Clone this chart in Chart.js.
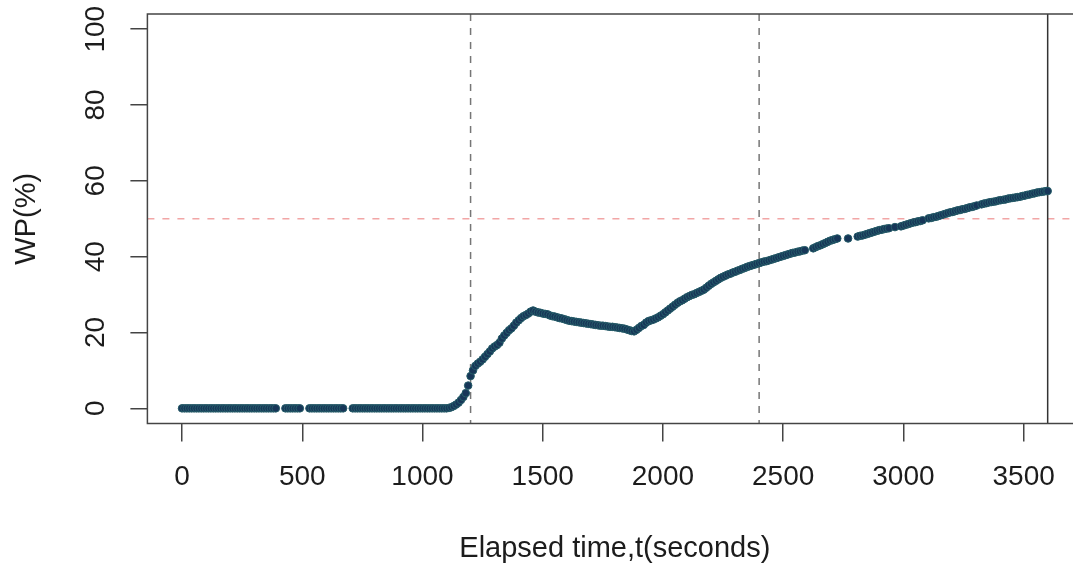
<!DOCTYPE html>
<html>
<head>
<meta charset="utf-8">
<title>WP(%) vs elapsed time</title>
<script src="https://cdn.jsdelivr.net/npm/chart.js@4/dist/chart.umd.min.js"></script>
<style>
  html, body { margin: 0; padding: 0; background: #fff; overflow: hidden; }
  #wrap { width: 1090px; height: 566px; }
</style>
</head>
<body>
<div id="wrap"><canvas id="wpChart" width="1090" height="566"></canvas></div>
<script>
// elapsed time (s) and WP (%), one reading every ~10 s
// idle stretch: WP stays at 0 (a few dropped readings)
const idleSec = [
  0, 10, 20, 30, 40, 50, 60, 70, 80, 90, 100, 110, 120, 130, 140, 150, 160, 170, 180, 190,
  200, 210, 220, 230, 240, 250, 260, 270, 280, 290, 300, 310, 320, 330, 340, 350, 360, 370, 380, 390,
  430, 440, 450, 460, 470, 480, 490, 530, 540, 550, 560, 570, 580, 590, 600, 610, 620, 630, 640, 650,
  660, 670, 710, 720, 730, 740, 750, 760, 770, 780, 790, 800, 810, 820, 830, 840, 850, 860, 870, 880,
  890, 900, 910, 920, 930, 940, 950, 960, 970, 980, 990, 1000, 1010, 1020, 1030, 1040, 1050, 1060, 1070, 1080,
  1090, 1100
];
const idleWp = [
  0, 0, 0, 0, 0, 0, 0, 0, 0, 0, 0, 0, 0, 0, 0, 0, 0, 0, 0, 0,
  0, 0, 0, 0, 0, 0, 0, 0, 0, 0, 0, 0, 0, 0, 0, 0, 0, 0, 0, 0,
  0, 0, 0, 0, 0, 0, 0, 0, 0, 0, 0, 0, 0, 0, 0, 0, 0, 0, 0, 0,
  0, 0, 0, 0, 0, 0, 0, 0, 0, 0, 0, 0, 0, 0, 0, 0, 0, 0, 0, 0,
  0, 0, 0, 0, 0, 0, 0, 0, 0, 0, 0, 0, 0, 0, 0, 0, 0, 0, 0, 0,
  0, 0
];

// rise up to the first peak
const riseSec = [
  1110, 1120, 1130, 1140, 1150, 1160, 1170, 1180, 1190, 1200,
  1210, 1220, 1230, 1240, 1250, 1260, 1270, 1280, 1290, 1300,
  1310, 1320, 1330, 1340, 1350, 1360, 1370, 1380, 1390, 1400,
  1410, 1420, 1430, 1440, 1450, 1460
];
const riseWp = [
  0.1, 0.3, 0.6, 1.0, 1.5, 2.2, 3.0, 4.0, 6.0, 8.5,
  10.0, 11.2, 11.8, 12.3, 12.9, 13.6, 14.3, 15.0, 15.8, 16.3,
  16.7, 17.3, 18.4, 19.2, 19.9, 20.6, 21.1, 21.8, 22.6, 23.2,
  23.8, 24.3, 24.6, 25.0, 25.5, 25.8
];

// slow fall after the peak
const dipSec = [
  1470, 1480, 1490, 1500, 1510, 1520, 1530, 1540, 1550, 1560,
  1570, 1580, 1590, 1600, 1610, 1620, 1630, 1640, 1650, 1660,
  1670, 1680, 1690, 1700, 1710, 1720, 1730, 1740, 1750, 1760,
  1770, 1780, 1790, 1800, 1810, 1820, 1830, 1840, 1850, 1860,
  1870, 1880
];
const dipWp = [
  25.5, 25.3, 25.2, 25.0, 24.9, 24.8, 24.5, 24.3, 24.2, 24.0,
  23.8, 23.7, 23.5, 23.3, 23.1, 23.0, 22.9, 22.8, 22.7, 22.6,
  22.5, 22.4, 22.3, 22.2, 22.1, 22.0, 21.9, 21.8, 21.8, 21.7,
  21.6, 21.5, 21.5, 21.4, 21.3, 21.2, 21.1, 21.0, 20.8, 20.6,
  20.4, 20.3
];

// second climb
const climbSec = [
  1890, 1900, 1910, 1920, 1930, 1940, 1950, 1960, 1970, 1980,
  1990, 2000, 2010, 2020, 2030, 2040, 2050, 2060, 2070, 2080,
  2090, 2100, 2110, 2120, 2130, 2140, 2150, 2160, 2170, 2180,
  2190, 2200, 2210, 2220, 2230, 2240, 2250, 2260, 2270, 2280,
  2290, 2300, 2310, 2320, 2330, 2340, 2350, 2360, 2370, 2380,
  2390, 2400, 2410, 2420, 2430, 2440, 2450, 2460, 2470, 2480,
  2490, 2500, 2510, 2520, 2530, 2540, 2550, 2560, 2570, 2580,
  2590
];
const climbWp = [
  20.7, 21.2, 21.7, 22.0, 22.6, 23.0, 23.2, 23.4, 23.7, 24.0,
  24.4, 24.8, 25.3, 25.8, 26.3, 26.8, 27.3, 27.8, 28.2, 28.5,
  28.9, 29.3, 29.6, 29.9, 30.1, 30.4, 30.7, 31.0, 31.3, 31.8,
  32.3, 32.8, 33.2, 33.6, 34.0, 34.4, 34.7, 35.0, 35.3, 35.5,
  35.8, 36.0, 36.3, 36.5, 36.8, 37.0, 37.3, 37.5, 37.7, 37.9,
  38.1, 38.3, 38.5, 38.7, 38.8, 39.0, 39.2, 39.4, 39.6, 39.8,
  40.0, 40.2, 40.4, 40.6, 40.8, 41.0, 41.1, 41.3, 41.4, 41.6,
  41.7
];

// late stretch, patchier sampling
const lateSec = [
  2625, 2635, 2645, 2655, 2665, 2675, 2685, 2695, 2705, 2715, 2725,
  2770,
  2810, 2820, 2830, 2840, 2850, 2860, 2870, 2880, 2890, 2900, 2910, 2920, 2930, 2940,
  2965,
  2990, 3000, 3010, 3020, 3030, 3040, 3050, 3060, 3070, 3080,
  3105, 3115, 3125, 3135, 3145, 3155, 3165, 3175, 3185, 3195,
  3205, 3215, 3225, 3235, 3245, 3255, 3265, 3275, 3285, 3295, 3305,
  3325, 3335, 3345, 3355, 3365, 3375, 3385, 3395, 3405, 3415,
  3425, 3435, 3445, 3455, 3465, 3475, 3485, 3495, 3505, 3515,
  3525, 3535, 3545, 3555, 3565, 3575, 3585, 3595,
  3600
];
const lateWp = [
  42.2, 42.5, 42.8, 43.0, 43.3, 43.6, 43.9, 44.2, 44.4, 44.6, 44.8,
  44.8,
  45.3, 45.5, 45.6, 45.8, 46.0, 46.2, 46.4, 46.6, 46.8, 47.0, 47.1, 47.3, 47.4, 47.5,
  47.8,
  48.0, 48.2, 48.4, 48.6, 48.8, 49.0, 49.1, 49.3, 49.4, 49.6,
  50.1, 50.2, 50.4, 50.5, 50.7, 50.9, 51.1, 51.3, 51.5, 51.7,
  51.8, 52.0, 52.2, 52.3, 52.5, 52.6, 52.8, 53.0, 53.1, 53.3, 53.5,
  53.8, 54.0, 54.1, 54.3, 54.4, 54.5, 54.6, 54.8, 54.9, 55.0,
  55.1, 55.3, 55.4, 55.5, 55.6, 55.7, 55.8, 56.0, 56.1, 56.3,
  56.4, 56.6, 56.7, 56.9, 57.0, 57.1, 57.2, 57.3,
  57.3
];

const xTicks = [0, 500, 1000, 1500, 2000, 2500, 3000, 3500];
const yTicks = [0, 20, 40, 60, 80, 100];
const phaseMarks = [1200, 2400];   // dashed grey verticals
const endMark = 3600;              // solid vertical
const halfLine = 50;               // dashed pink horizontal

const TICK_FONT = '28px "Liberation Sans", Arial, sans-serif';
const TITLE_FONT = '29px "Liberation Sans", Arial, sans-serif';
const TEXT = '#1c1c1c';

const allSec = [...idleSec, ...riseSec, ...dipSec, ...climbSec, ...lateSec];
const allWp = [...idleWp, ...riseWp, ...dipWp, ...climbWp, ...lateWp];
const points = allSec.map((t, i) => ({ x: t, y: allWp[i] }));

function stroke(ctx, x1, y1, x2, y2) {
  ctx.beginPath();
  ctx.moveTo(x1, y1);
  ctx.lineTo(x2, y2);
  ctx.stroke();
}

// reference lines under the points, box + text on top
const decorations = {
  id: 'decorations',
  beforeDatasetsDraw(chart) {
    const { ctx, chartArea: a, scales: { x, y } } = chart;
    ctx.save();
    ctx.lineWidth = 1.5;

    ctx.strokeStyle = '#f2a6a6';
    ctx.setLineDash([7, 8]);
    const yh = y.getPixelForValue(halfLine);
    stroke(ctx, a.left, yh, a.right, yh);

    ctx.strokeStyle = '#767676';
    ctx.setLineDash([7, 7]);
    phaseMarks.forEach(t => {
      const px = x.getPixelForValue(t);
      stroke(ctx, px, a.top, px, a.bottom);
    });

    ctx.setLineDash([]);
    ctx.strokeStyle = '#333';
    const pe = x.getPixelForValue(endMark);
    stroke(ctx, pe, a.top, pe, a.bottom);
    ctx.restore();
  },
  afterDraw(chart) {
    const { ctx, chartArea: a, scales: { x, y } } = chart;
    ctx.save();
    ctx.strokeStyle = '#444';
    ctx.lineWidth = 1.5;
    ctx.strokeRect(a.left, a.top, a.right - a.left, a.bottom - a.top);

    ctx.fillStyle = TEXT;
    ctx.textAlign = 'center';
    ctx.textBaseline = 'middle';

    ctx.font = TICK_FONT;
    xTicks.forEach(v => ctx.fillText(String(v), x.getPixelForValue(v), 477));
    yTicks.forEach(v => {
      ctx.save();
      ctx.translate(96, y.getPixelForValue(v));
      ctx.rotate(-Math.PI / 2);
      ctx.fillText(String(v), 0, 0);
      ctx.restore();
    });

    ctx.font = TITLE_FONT;
    ctx.fillText('Elapsed time,t(seconds)', (a.left + a.right) / 2, 549);
    ctx.save();
    ctx.translate(27, (a.top + a.bottom) / 2);
    ctx.rotate(-Math.PI / 2);
    ctx.fillText('WP(%)', 0, 0);
    ctx.restore();
    ctx.restore();
  }
};

new Chart(document.getElementById('wpChart'), {
  type: 'scatter',
  data: {
    datasets: [{
      data: points,
      showLine: false,
      pointRadius: 3.8,
      pointBorderWidth: 1,
      pointBackgroundColor: '#173658',
      pointBorderColor: '#255c68',
      pointHoverRadius: 3.8
    }]
  },
  options: {
    responsive: false,
    animation: false,
    events: [],
    layout: { padding: { top: 14, right: 7.7, left: 0, bottom: 0 } },
    plugins: { legend: { display: false }, tooltip: { enabled: false } },
    scales: {
      x: {
        type: 'linear',
        min: -144,
        max: 3744,
        afterBuildTicks: s => { s.ticks = xTicks.map(v => ({ value: v })); },
        afterFit: s => { s.height = 142.5; },
        ticks: { display: false },
        border: { display: false },
        grid: { drawOnChartArea: false, drawTicks: true, tickLength: 18, color: '#444', lineWidth: 1.5 }
      },
      y: {
        type: 'linear',
        min: -4,
        max: 104,
        afterBuildTicks: s => { s.ticks = yTicks.map(v => ({ value: v })); },
        afterFit: s => { s.width = 147.4; },
        ticks: { display: false },
        border: { display: false },
        grid: { drawOnChartArea: false, drawTicks: true, tickLength: 17, color: '#444', lineWidth: 1.5 }
      }
    }
  },
  plugins: [decorations]
});
</script>
</body>
</html>
